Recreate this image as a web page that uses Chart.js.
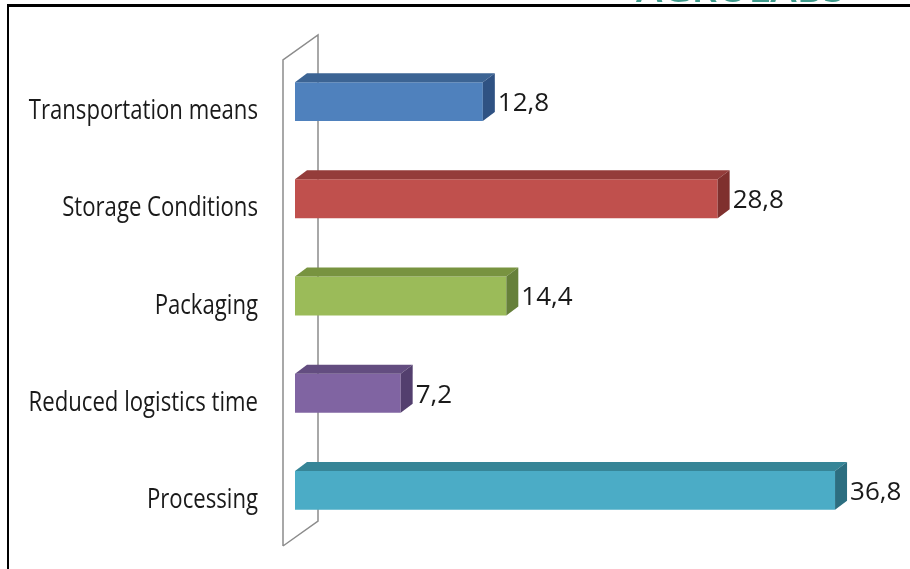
<!DOCTYPE html>
<html>
<head>
<meta charset="utf-8">
<script src="https://cdn.jsdelivr.net/npm/chart.js@4.4.0/dist/chart.umd.min.js"></script>
<style>
  html, body { margin: 0; padding: 0; background: #fff; }
  #wrap { position: relative; width: 910px; height: 569px; overflow: hidden; }
  #chart { position: absolute; left: 0; top: 0; }
</style>
</head>
<body>
<div id="wrap">
  <canvas id="chart" width="910" height="569"></canvas>
</div>
<script>
// ===== Data =====
const categories = ['Transportation means', 'Storage Conditions', 'Packaging', 'Reduced logistics time', 'Processing'];
const values = [12.8, 28.8, 14.4, 7.2, 36.8];

// front / top / side colours of each bar
const frontColors = ['#4F81BD', '#C0504D', '#9BBB59', '#8064A2', '#4BACC6'];
const topColors   = ['#3C6494', '#943C3A', '#789340', '#634D80', '#368597'];
const sideColors  = ['#2F5283', '#7F302E', '#66803A', '#533F6E', '#2C6E80'];

const DEPTH_X = 12, DEPTH_Y = -9;
const FONT = '"Open Sans", "Liberation Sans", sans-serif';

// ===== Plugins =====
const frame = {
  id: 'frame',
  beforeDraw(chart) {
    const ctx = chart.ctx;
    ctx.save();
    // heading text, mostly cut off at the top edge
    ctx.fillStyle = '#3E9B8C';
    ctx.font = '600 40px ' + FONT;
    ctx.textAlign = 'left';
    ctx.textBaseline = 'alphabetic';
    ctx.fillText('AGROLABS', 636, 2);
    // border lines
    ctx.fillStyle = '#000';
    ctx.fillRect(7, 4, 903, 3);
    ctx.fillRect(7, 4, 2, 565);
    ctx.restore();
  }
};

const wall = {
  id: 'wall',
  beforeDatasetsDraw(chart) {
    const { ctx, chartArea: a } = chart;
    const fx = a.left - 12, bx = a.left + 23;
    ctx.save();
    ctx.strokeStyle = '#8C8C8C';
    ctx.lineWidth = 1.5;
    ctx.beginPath();
    ctx.moveTo(fx, a.bottom + 7);
    ctx.lineTo(fx, a.top + 7);
    ctx.lineTo(bx, a.top - 18);
    ctx.lineTo(bx, a.bottom - 18);
    ctx.lineTo(fx, a.bottom + 7);
    ctx.stroke();
    ctx.restore();
  }
};

// category names, drawn a little condensed
const categoryLabels = {
  id: 'categoryLabels',
  afterDraw(chart) {
    const { ctx, chartArea: a } = chart;
    const yScale = chart.scales.y;
    ctx.save();
    ctx.fillStyle = '#1A1A1A';
    ctx.font = '27px ' + FONT;
    ctx.textAlign = 'right';
    ctx.textBaseline = 'middle';
    categories.forEach((label, i) => {
      const y = yScale.getPixelForValue(i) + 10;
      ctx.save();
      ctx.translate(a.left - 37, y);
      ctx.scale(0.82, 1);
      ctx.fillText(label, 0, 0);
      ctx.restore();
    });
    ctx.restore();
  }
};

const bars3d = {
  id: 'bars3d',
  afterDatasetsDraw(chart) {
    const ctx = chart.ctx;
    const meta = chart.getDatasetMeta(0);
    ctx.save();
    meta.data.forEach((bar, i) => {
      const { x, y, base, height } = bar.getProps(['x', 'y', 'base', 'height'], true);
      const top = y - height / 2, bottom = y + height / 2;
      // top face
      ctx.fillStyle = topColors[i];
      ctx.beginPath();
      ctx.moveTo(base, top);
      ctx.lineTo(base + DEPTH_X, top + DEPTH_Y);
      ctx.lineTo(x + DEPTH_X, top + DEPTH_Y);
      ctx.lineTo(x, top);
      ctx.closePath();
      ctx.fill();
      // side face
      ctx.fillStyle = sideColors[i];
      ctx.beginPath();
      ctx.moveTo(x, top);
      ctx.lineTo(x + DEPTH_X, top + DEPTH_Y);
      ctx.lineTo(x + DEPTH_X, bottom + DEPTH_Y);
      ctx.lineTo(x, bottom);
      ctx.closePath();
      ctx.fill();
      // value label
      ctx.fillStyle = '#1A1A1A';
      ctx.font = '26px ' + FONT;
      ctx.textAlign = 'left';
      ctx.textBaseline = 'middle';
      ctx.fillText(values[i].toFixed(1).replace('.', ','), x + DEPTH_X + 3, y + 2);
    });
    ctx.restore();
  }
};

// ===== Chart =====
const chart = new Chart(document.getElementById('chart').getContext('2d'), {
  type: 'bar',
  data: {
    labels: categories,
    datasets: [{
      data: values,
      backgroundColor: frontColors,
      borderWidth: 0,
      barPercentage: 0.8,
      categoryPercentage: 0.5
    }]
  },
  options: {
    indexAxis: 'y',
    responsive: false,
    animation: false,
    layout: { padding: { top: 53, bottom: 30, right: 28 } },
    scales: {
      x: {
        min: 0,
        max: 40,
        display: false
      },
      y: {
        afterFit(scale) { scale.width = 295; },
        grid: { display: false, drawTicks: false },
        border: { display: false },
        ticks: { display: false }
      }
    },
    plugins: {
      legend: { display: false },
      tooltip: { enabled: false }
    }
  },
  plugins: [frame, wall, categoryLabels, bars3d]
});
</script>
</body>
</html>
